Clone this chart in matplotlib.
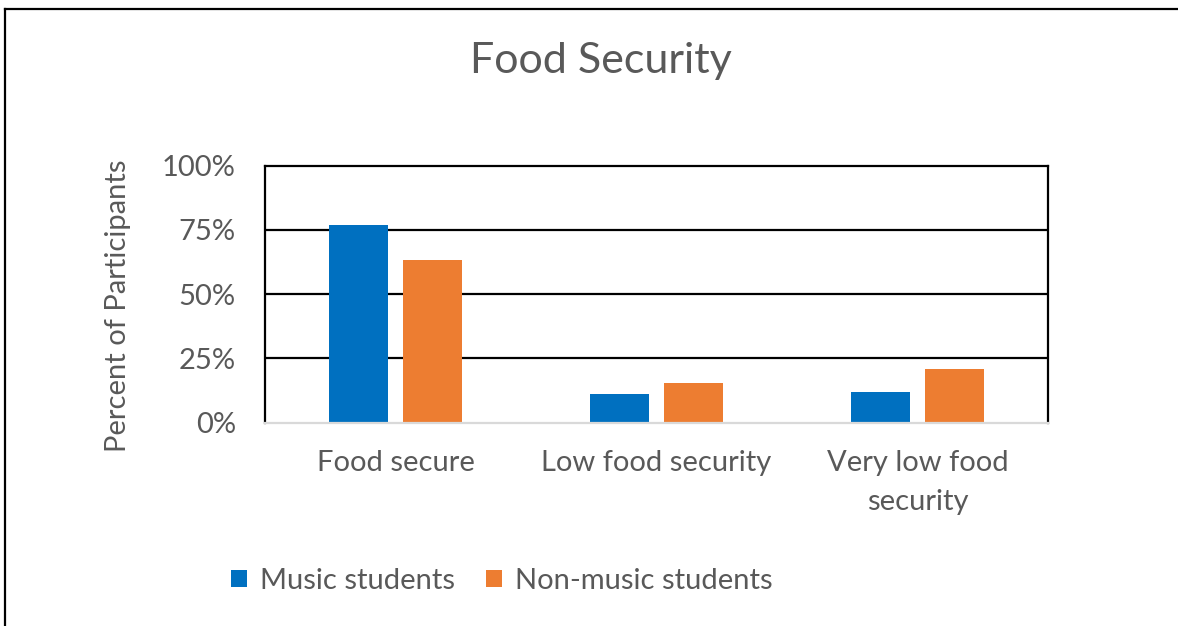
import matplotlib
matplotlib.use("Agg")
import matplotlib.pyplot as plt
from matplotlib.patches import Patch
from matplotlib.lines import Line2D
import numpy as np

categories = ["Food secure", "Low food security", "Very low food\nsecurity"]
series_names = ["Music students", "Non-music students"]
music = [76.9, 11.0, 11.9]
non_music = [63.4, 15.3, 20.8]
yticks = [0, 25, 50, 75, 100]
ytick_labels = ["0%", "25%", "50%", "75%", "100%"]

BLUE = "#0070C0"
ORANGE = "#ED7D31"
TXT = "#595959"
plt.rcParams['font.family'] = ['Lato', 'DejaVu Sans']

W, H = 1178, 626
fig = plt.figure(figsize=(W / 100, H / 100), dpi=100)
ax = fig.add_axes([265 / W, 1 - 422.7 / H, (1048 - 265) / W, (422.7 - 165.7) / H])

x = np.arange(len(categories))
bw = 0.225
off = 0.143
ax.bar(x - off, music, bw, color=BLUE, zorder=3)
ax.bar(x + off, non_music, bw, color=ORANGE, zorder=3)

FS = 21
ax.set_xlim(-0.5, len(categories) - 0.5)
ax.set_ylim(0, 100)
ax.set_yticks(yticks)
ax.set_yticklabels(ytick_labels)
ax.set_xticks(x)
ax.set_xticklabels(categories, linespacing=1.62)
ax.tick_params(axis='y', length=0, pad=21, labelsize=FS, labelcolor=TXT)
ax.tick_params(axis='x', length=0, pad=20, labelsize=FS, labelcolor=TXT)
for t in yticks[1:-1]:
    ax.axhline(t, color="black", lw=1.6, zorder=2)
for s in ["left", "top", "right"]:
    ax.spines[s].set_color("black")
    ax.spines[s].set_linewidth(1.6)
ax.spines["bottom"].set_color("#d9d9d9")
ax.spines["bottom"].set_linewidth(1.6)
ax.spines["bottom"].set_zorder(4)

ax.set_ylabel("Percent of Participants", fontsize=FS, color=TXT, labelpad=22)
ax.yaxis.label.set_y(0.455)

fig.text(601 / W, 1 - 61 / H, "Food Security", ha="center", va="center",
         fontsize=31, color=TXT)

handles = [Patch(facecolor=BLUE, label=series_names[0]),
           Patch(facecolor=ORANGE, label=series_names[1])]
leg = fig.legend(handles=handles, loc="center", bbox_to_anchor=(502 / W, 1 - 581 / H),
                 ncol=2, frameon=False, fontsize=FS, handlelength=0.55, handleheight=0.55,
                 handletextpad=0.45, columnspacing=1.05)
for t in leg.get_texts():
    t.set_color(TXT)

# outer border (left and top edges)
fig.add_artist(Line2D([5 / W, 5 / W], [0, 1 - 8.5 / H], transform=fig.transFigure,
                      color="black", lw=1.6))
fig.add_artist(Line2D([5 / W, 1], [1 - 8.5 / H, 1 - 8.5 / H], transform=fig.transFigure,
                      color="black", lw=1.6))

fig.savefig("out.png", dpi=100)
